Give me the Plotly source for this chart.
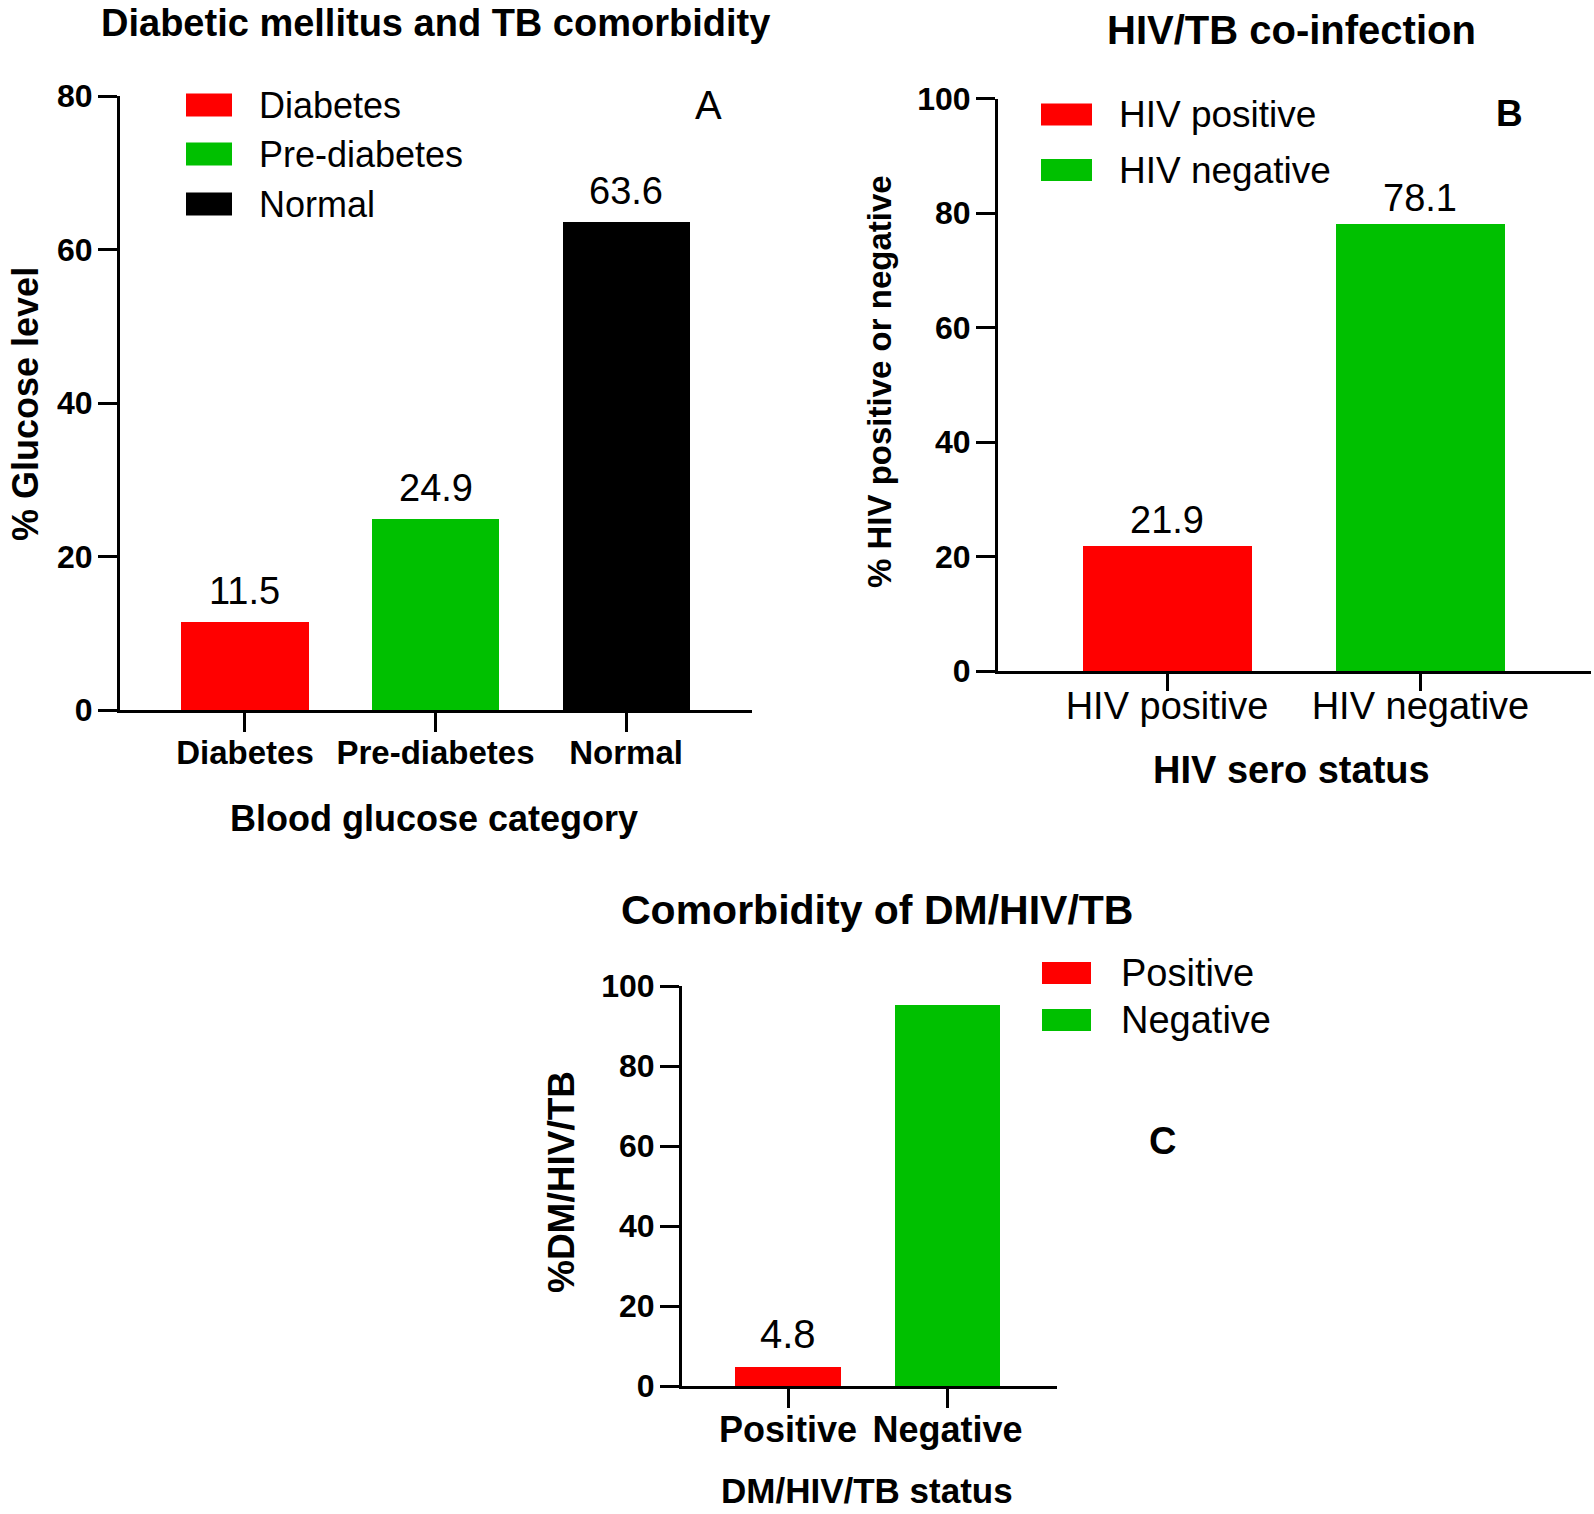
import plotly.graph_objects as go

# ---------------- data ----------------
glucose_categories = ["Diabetes", "Pre-diabetes", "Normal"]
glucose_values = [11.5, 24.9, 63.6]
glucose_colors = ["#FF0000", "#00C000", "#000000"]

hiv_categories = ["HIV positive", "HIV negative"]
hiv_values = [21.9, 78.1]
hiv_colors = ["#FF0000", "#00C000"]

dm_categories = ["Positive", "Negative"]
dm_values = [4.8, 95.2]
dm_labels = ["4.8", ""]
dm_colors = ["#FF0000", "#00C000"]

glucose_ticks = [0, 20, 40, 60, 80]
hiv_ticks = [0, 20, 40, 60, 80, 100]
dm_ticks = [0, 20, 40, 60, 80, 100]

FONT = "Liberation Sans, Arial, Helvetica, sans-serif"
W, H = 1594, 1514

fig = go.Figure()

fig.add_trace(go.Bar(x=glucose_categories, y=glucose_values, marker_color=glucose_colors,
                     marker_line_width=0, width=0.667, xaxis="x", yaxis="y", showlegend=False))
fig.add_trace(go.Bar(x=hiv_categories, y=hiv_values, marker_color=hiv_colors,
                     marker_line_width=0, width=0.667, xaxis="x2", yaxis="y2", showlegend=False))
fig.add_trace(go.Bar(x=dm_categories, y=dm_values, marker_color=dm_colors,
                     marker_line_width=0, width=0.66, xaxis="x3", yaxis="y3", showlegend=False))


def xaxis(domain, rng, anchor, bold, size, ticklen, standoff):
    return dict(domain=domain, range=rng, anchor=anchor, showgrid=False, zeroline=False,
                showline=True, linecolor="black", linewidth=3, ticks="outside",
                ticklen=ticklen, tickwidth=3, tickcolor="black", automargin=False,
                tickfont=dict(family=FONT, size=size, color="black",
                              weight="bold" if bold else "normal"),
                ticklabelstandoff=standoff, fixedrange=True)


def yaxis(domain, rng, anchor, tickvals):
    return dict(domain=domain, range=rng, anchor=anchor, showgrid=False, zeroline=False,
                showline=True, linecolor="black", linewidth=3, ticks="outside",
                ticklen=19, tickwidth=3, tickcolor="black", tickvals=tickvals,
                automargin=False,
                tickfont=dict(family=FONT, size=32, color="black", weight="bold"),
                ticklabelstandoff=-1, fixedrange=True)


def px(v):
    return v / W


def py(v):
    return 1 - v / H


fig.update_layout(
    width=W, height=H, autosize=False,
    margin=dict(l=0, r=0, t=0, b=0, pad=0, autoexpand=False),
    paper_bgcolor="white", plot_bgcolor="white", bargap=0, showlegend=False,
    xaxis=xaxis([px(120), px(752)], [-0.656, 2.661], "y", True, 33, 19, -8),
    yaxis=yaxis([py(710), py(96)], [0, 80], "x", glucose_ticks),
    xaxis2=xaxis([px(998), px(1591)], [-0.667, 1.673], "y2", False, 38, 17, -18),
    yaxis2=yaxis([py(671), py(98.5)], [0, 100], "x2", hiv_ticks),
    xaxis3=xaxis([px(682), px(1057)], [-0.665, 1.687], "y3", True, 36, 19, -9),
    yaxis3=yaxis([py(1386), py(986)], [0, 100], "x3", dm_ticks),
)

ann = []
shapes = []


def text(x, y, s, size, bold=False, angle=0, xanchor="center"):
    ann.append(dict(x=px(x), y=py(y), xref="paper", yref="paper", text=s, showarrow=False,
                    textangle=angle, xanchor=xanchor, yanchor="middle",
                    font=dict(family=FONT, size=size, color="black",
                              weight="bold" if bold else "normal")))


# titles
text(436, 23, "Diabetic mellitus and TB comorbidity", 38, True)
text(1291, 30, "HIV/TB co-infection", 40, True)
text(877, 910, "Comorbidity of DM/HIV/TB", 41, True)

# axis titles
text(434, 818, "Blood glucose category", 36, True)
text(25, 404, "% Glucose level", 36, True, angle=-90)
text(1291, 770, "HIV sero status", 38, True)
text(879, 382, "% HIV positive or negative", 33, True, angle=-90)
text(867, 1490, "DM/HIV/TB status", 35, True)
text(561, 1182, "%DM/HIV/TB", 37, True, angle=-90)

# panel letters
text(708, 105, "A", 40)
text(1509, 113, "B", 37, True)
text(1162, 1141, "C", 38, True)

# value labels anchored to the data
for cats, vals, labs, xa, ya, sz, shift in [
    (glucose_categories, glucose_values, [str(v) for v in glucose_values], "x", "y", 38, 31),
    (hiv_categories, hiv_values, [str(v) for v in hiv_values], "x2", "y2", 38, 26),
    (dm_categories, dm_values, dm_labels, "x3", "y3", 40, 33),
]:
    for c, v, lab in zip(cats, vals, labs):
        if lab:
            ann.append(dict(x=c, y=v, xref=xa, yref=ya, text=lab, showarrow=False,
                            xanchor="center", yanchor="middle", yshift=shift,
                            font=dict(family=FONT, size=sz, color="black")))


# legends (swatch + text)
def legend(names, colors, x0, x1, rows, hgt, tx, size):
    for n, c, r in zip(names, colors, rows):
        shapes.append(dict(type="rect", xref="paper", yref="paper",
                           x0=px(x0), x1=px(x1), y0=py(r + hgt / 2), y1=py(r - hgt / 2),
                           fillcolor=c, line=dict(width=0)))
        text(tx, r, n, size, xanchor="left")


legend(glucose_categories, glucose_colors, 186, 232, [105, 154, 204], 23, 257, 36)
legend(hiv_categories, hiv_colors, 1041, 1092, [114.5, 170], 22, 1117, 37)
legend(dm_categories, dm_colors, 1042, 1091, [973, 1020], 22, 1119, 38)

fig.update_layout(annotations=ann, shapes=shapes)

fig.write_html(
    "out.html",
    config={"displayModeBar": False},
    post_script=(
        "var d=document.getElementsByClassName('plotly-graph-div')[0];"
        "d.style.position='fixed';d.style.left='0px';d.style.top='0px';"
        "document.body.style.margin='0px';"
        "document.body.style.padding='0px';"
        "document.documentElement.style.overflow='hidden';"
        "document.body.style.overflow='hidden';"
    ),
)
